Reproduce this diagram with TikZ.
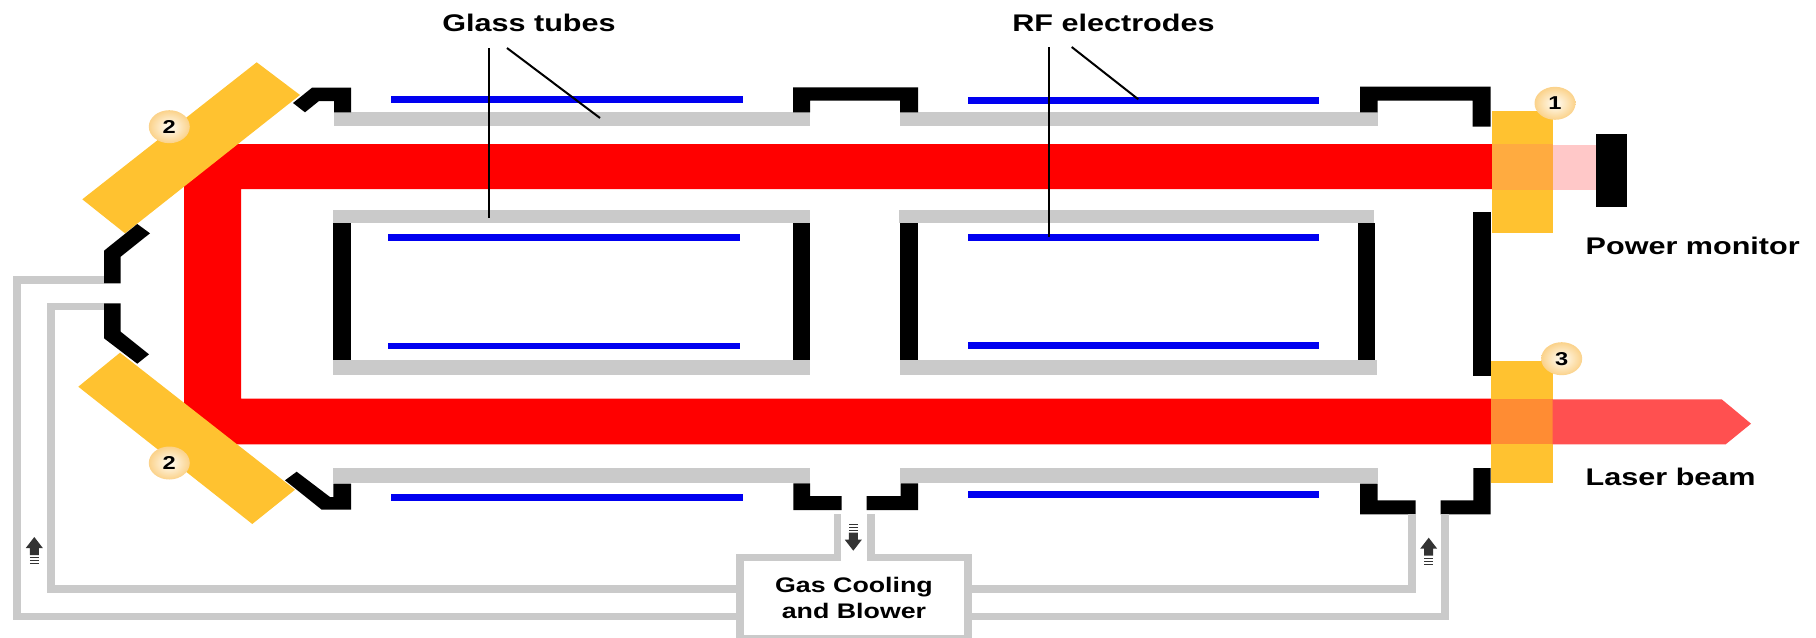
\documentclass[tikz,border=0pt]{standalone}
\usepackage{fontspec}
\usepackage{tikz}
\usetikzlibrary{shapes.geometric}
\newfontfamily\labelfont{Liberation Sans Bold}[FakeStretch=1.27]
\definecolor{tubegray}{HTML}{CACACA}
\definecolor{mirroryellow}{HTML}{FFC230}
\definecolor{electrodeblue}{HTML}{0000F0}
\definecolor{badgepeach}{HTML}{FBD28A}
\definecolor{badgecream}{HTML}{FFFDF6}
\tikzset{
    tube/.style={fill=tubegray},
    wall/.style={fill=black},
    electrode/.style={fill=electrodeblue},
    mirror/.style={fill=mirroryellow},
    pipe/.style={draw=tubegray, line width=.75mm},
    leader/.style={draw=black, line width=.2mm},
    callout/.style={font=\labelfont\fontsize{6.85}{8}\selectfont, inner sep=0pt},
    badge/.style={ellipse, minimum width=4.1mm, minimum height=3.3mm, inner sep=0pt,
        inner color=badgecream, outer color=badgepeach,
        font=\labelfont\fontsize{5.3}{6}\selectfont},
    pics/gasarrow/.style={code={
        \fill[black!80] (0,0) -- (8.5,11) -- (4.5,11) -- (4.5,18) -- (-4.5,18) -- (-4.5,11) -- (-8.5,11) -- cycle;
        \draw[black!80, line width=.1mm] (-4.5,20.5) -- (4.5,20.5) (-4.5,23.5) -- (4.5,23.5) (-4.5,26.5) -- (4.5,26.5);
    }}
}
\begin{document}
\begin{tikzpicture}[x=.1mm, y=-.1mm]
    \useasboundingbox (0,0) rectangle (1816,637);
    \clip (0,0) rectangle (1816,637);
    % Laser path in the folded cavity.
        \fill[red] (230,144) -- (1492,144) -- (1492,189) -- (241,189) -- (241,398.7) -- (1491,398.7)
            -- (1491,444.3) -- (230,444.3) -- (184,408) -- (184,178) -- cycle;
    % Output windows and what leaves them.
        \fill[mirror] (1491.7,111) rectangle (1553.3,232.7);
        \fill[mirror] (1490.7,361.3) rectangle (1552.7,483);
        \fill[color={rgb,255:red,255;green,171;blue,64}] (1491.7,144) rectangle (1553.3,189.5);
        \fill[color={rgb,255:red,255;green,200;blue,200}] (1553.3,144.5) rectangle (1596,190);
        \fill[wall] (1595.7,134) rectangle (1626.7,206.7);
        \fill[color={rgb,255:red,255;green,140;blue,51}] (1490.7,399) rectangle (1552.7,444.3);
        \fill[color={rgb,255:red,255;green,80;blue,80}] (1552.7,399.3) -- (1721.7,399.3) -- (1751,423.7) -- (1725.7,444.3) -- (1552.7,444.3) -- cycle;
    % Folding mirrors.
        \fill[mirror] (256.7,62.3) -- (300,95) -- (125,233.3) -- (82.3,199.3) -- cycle;
        \fill[mirror] (120,352.7) -- (295,489.7) -- (252.3,524) -- (78.3,386.7) -- cycle;
    % Glass tubes.
        \fill[tube] (334,112.3) rectangle (810,126);
        \fill[tube] (900,112.3) rectangle (1378,126);
        \fill[tube] (333.3,210) rectangle (810,223.3);
        \fill[tube] (899,210) rectangle (1374,223.3);
        \fill[tube] (333.3,360.3) rectangle (810,375.3);
        \fill[tube] (900,360.3) rectangle (1377,375.3);
        \fill[tube] (333.3,468.3) rectangle (810,483.3);
        \fill[tube] (900,468.3) rectangle (1378,483.3);
    % Housing walls.
        \fill[wall] (293,103) -- (312,87.7) -- (351,87.7) -- (351,112.3) -- (334,112.3) -- (334,101) -- (319,101) -- (305,112.3) -- cycle;
        \fill[wall] (793,87.3) -- (918,87.3) -- (918,112.3) -- (900,112.3) -- (900,100.7) -- (810,100.7) -- (810,112.3) -- (793,112.3) -- cycle;
        \fill[wall] (1360,86.7) -- (1490.7,86.7) -- (1490.7,126.7) -- (1472.7,126.7) -- (1472.7,100.7) -- (1377.7,100.7) -- (1377.7,112.3) -- (1360,112.3) -- cycle;
        \fill[wall] (333.3,223.3) rectangle (350.7,360.3);
        \fill[wall] (793.3,223.3) rectangle (810,360.3);
        \fill[wall] (900,223.3) rectangle (918,360.3);
        \fill[wall] (1357.7,223.3) rectangle (1375,360.3);
        \fill[wall] (1473,211.7) rectangle (1491,376);
        \fill[wall] (137.3,224) -- (150,233.3) -- (120.7,256.7) -- (120.7,283.3) -- (104,283.3) -- (104,250.7) -- cycle;
        \fill[wall] (104,303.3) -- (120.7,303.3) -- (120.7,331.7) -- (149,354.3) -- (137.3,363.7) -- (104,338.3) -- cycle;
        \fill[wall] (285,480.3) -- (296.7,471.7) -- (330,497) -- (333.3,497) -- (333.3,483.7) -- (351,483.7) -- (351,509.7) -- (321.7,509.7) -- cycle;
        \fill[wall] (793.3,483.3) -- (810,483.3) -- (810,496) -- (841.7,496) -- (841.7,510) -- (793.3,510) -- cycle;
        \fill[wall] (866.7,496) -- (900.7,496) -- (900.7,483.3) -- (918,483.3) -- (918,510) -- (866.7,510) -- cycle;
        \fill[wall] (1360,483.7) -- (1377.7,483.7) -- (1377.7,500.3) -- (1415.7,500.3) -- (1415.7,514.3) -- (1360,514.3) -- cycle;
        \fill[wall] (1440.7,500.3) -- (1473.3,500.3) -- (1473.3,468) -- (1490.7,468) -- (1490.7,514.3) -- (1440.7,514.3) -- cycle;
    % RF electrodes.
        \fill[electrode] (390.7,96.3) rectangle (742.7,103);
        \fill[electrode] (968,97.3) rectangle (1319,103.7);
        \fill[electrode] (388,234) rectangle (740,240.7);
        \fill[electrode] (968,234) rectangle (1319,240.7);
        \fill[electrode] (388,342.7) rectangle (740,349.3);
        \fill[electrode] (968,342) rectangle (1319,348.7);
        \fill[electrode] (390.7,494.3) rectangle (742.7,501.3);
        \fill[electrode] (968,491) rectangle (1319,497.7);
    % Gas loop around the blower box.
        \node[draw=tubegray, line width=.75mm, minimum width=22.8mm, minimum height=8.1mm, inner sep=0pt,
            font=\labelfont\fontsize{6}{7.2}\selectfont, align=center] (blower) at (854,598) {Gas Cooling\\and Blower};
        \coordinate (returna) at (104,280);
        \coordinate (returnb) at (104,306.5);
        \coordinate (returnc) at (1412,514);
        \coordinate (returnd) at (1445,514);
        \coordinate (exhausta) at (837.3,514.3);
        \coordinate (exhaustb) at (871,514.3);
        \draw[pipe] (returna) -| (17,616.7) -- (blower.west |- 0,616.7);
        \draw[pipe] (returnb) -| (51,589) -- (blower.west |- 0,589);
        \draw[pipe] (returnc) |- (blower.east |- 0,589);
        \draw[pipe] (returnd) |- (blower.east |- 0,616.7);
        \draw[pipe] (exhausta) -- (exhausta |- blower.north);
        \draw[pipe] (exhaustb) -- (exhaustb |- blower.north);
        \fill[white] (841,552) rectangle (866.9,562);
    % Flow arrows.
        \pic at (34.3,537) {gasarrow};
        \pic at (1428.7,537.7) {gasarrow};
        \pic[rotate=180] at (853.3,550.7) {gasarrow};
    % Below nodes are the labels.
        \node[callout] (glasslabel) at (529,23) {Glass tubes};
        \node[callout] (rflabel) at (1113.5,23) {RF electrodes};
        \node[callout, anchor=west] (monitorlabel) at (1585,246) {Power monitor};
        \node[callout, anchor=west] (beamlabel) at (1585,477) {Laser beam};
        \node[badge] (badgea) at (169.3,126.7) {2};
        \node[badge] (badgeb) at (169.3,463) {2};
        \node[badge] (badgec) at (1555,103.3) {1};
        \node[badge] (badged) at (1561.7,358.7) {3};
    % Leader lines.
        \coordinate (glassa) at (489,48);
        \coordinate (glassb) at (507,48);
        \coordinate (tubea) at (489,218);
        \coordinate (tubeb) at (600,118);
        \coordinate (rfa) at (1049,47);
        \coordinate (rfb) at (1071.7,47);
        \coordinate (bara) at (1049,237);
        \coordinate (barb) at (1138.3,99.3);
        \draw[leader] (glassa) -- (tubea);
        \draw[leader] (glassb) -- (tubeb);
        \draw[leader] (rfa) -- (bara);
        \draw[leader] (rfb) -- (barb);
\end{tikzpicture}
\end{document}
